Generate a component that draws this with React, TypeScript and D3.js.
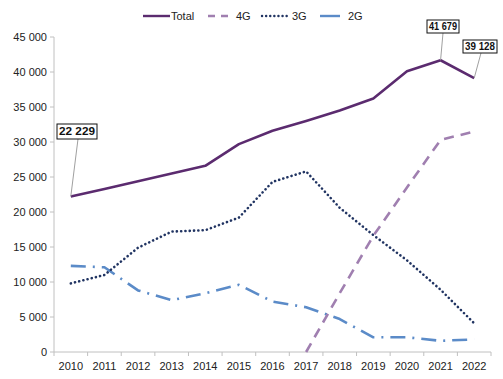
import React from "react";
import * as d3 from "d3";

const years = ["2010","2011","2012","2013","2014","2015","2016","2017","2018","2019","2020","2021","2022"];
const total = [22229, 23300, 24400, 25500, 26600, 29700, 31600, 33000, 34500, 36200, 40100, 41679, 39128];
const g4: (number | null)[] = [null, null, null, null, null, null, null, 0, 8400, 16600, 23500, 30300, 31500];
const g3 = [9800, 11000, 14900, 17200, 17400, 19200, 24300, 25800, 20600, 16700, 13100, 8900, 4100];
const g2 = [12300, 12100, 8800, 7400, 8400, 9600, 7200, 6400, 4700, 2100, 2100, 1600, 1800];
const yTicks = [0, 5000, 10000, 15000, 20000, 25000, 30000, 35000, 40000, 45000];
const callouts = [
  { idx: 0, label: "22 229", bx: 57, by: 124, bw: 40, bh: 15, lx: 78 },
  { idx: 11, label: "41 679", bx: 427, by: 20, bw: 32, bh: 13, lx: 443 },
  { idx: 12, label: "39 128", bx: 463, by: 40, bw: 34, bh: 13, lx: 481 },
];

const W = 503, H = 379;
const font = "'Liberation Sans', Arial, sans-serif";

export default function App() {
  const x = d3.scaleBand<string>().domain(years).range([54, 491]);
  const cx = (i: number) => (x(years[i]) as number) + x.bandwidth() / 2;
  const y = d3.scaleLinear().domain([0, 45000]).range([352, 37]);
  const fmt = (v: number) => d3.format(",")(v).replace(/,/g, " ");

  const line = d3.line<number | null>()
    .defined((d) => d !== null)
    .x((_, i) => cx(i))
    .y((d) => y(d as number));

  const series = [
    { name: "Total", data: total, color: "#5b2b6f", dash: "", cap: "butt" },
    { name: "4G", data: g4, color: "#a07fb0", dash: "10,7", cap: "butt" },
    { name: "3G", data: g3, color: "#213462", dash: "0.1,4.2", cap: "round" },
    { name: "2G", data: g2, color: "#5b8bc8", dash: "15,7,2,7", cap: "butt" },
  ];

  const legend = [
    { name: "Total", x1: 143, x2: 170, tx: 171, color: "#5b2b6f", dash: "", cap: "butt" },
    { name: "4G", x1: 208, x2: 232, tx: 236, color: "#a07fb0", dash: "7,6", cap: "butt" },
    { name: "3G", x1: 262, x2: 290, tx: 292, color: "#213462", dash: "0.1,4", cap: "round" },
    { name: "2G", x1: 320, x2: 340, tx: 348, color: "#5b8bc8", dash: "", cap: "butt" },
  ];

  const boundaries = d3.range(years.length + 1).map((i) => 54 + i * x.step());

  return (
    <svg width={W} height={H} style={{ position: "absolute", left: 0, top: 0, background: "#fff" }} fontFamily={font}>
      <rect width={W} height={H} fill="#fff" />
      {/* y axis */}
      <line x1={54} x2={54} y1={37} y2={352} stroke="#c0c0c0" strokeWidth={1} />
      {yTicks.map((t) => (
        <g key={t}>
          <line x1={50} x2={54} y1={y(t)} y2={y(t)} stroke="#c0c0c0" />
          <text x={47} y={y(t)} dy="0.35em" textAnchor="end" fontSize={11} fill="#222">{fmt(t)}</text>
        </g>
      ))}
      {/* x axis */}
      <line x1={54} x2={491} y1={352} y2={352} stroke="#c0c0c0" strokeWidth={1} />
      {boundaries.map((b, i) => (
        <line key={i} x1={b} x2={b} y1={352} y2={356} stroke="#c0c0c0" />
      ))}
      {years.map((yr, i) => (
        <text key={yr} x={cx(i)} y={366} dy="0.35em" textAnchor="middle" fontSize={11} fill="#222">{yr}</text>
      ))}
      {/* series */}
      {series.slice().reverse().map((s) => (
        <path key={s.name} d={line(s.data) as string} fill="none" stroke={s.color} strokeWidth={2.6}
          strokeDasharray={s.dash || undefined} strokeLinecap={s.cap as any} strokeLinejoin="round" />
      ))}
      {/* callouts */}
      {callouts.map((c) => (
        <g key={c.label}>
          <line x1={c.lx} y1={c.by + c.bh} x2={cx(c.idx)} y2={y(total[c.idx])} stroke="#a0a0a0" strokeWidth={1} />
          <rect x={c.bx} y={c.by} width={c.bw} height={c.bh} fill="#fff" stroke="#111" strokeWidth={1} />
          <text x={c.bx + 2} y={c.by + c.bh / 2} dy="0.36em" fontSize={10.5} fontWeight="bold" fill="#111"
            textLength={c.bw - 4} lengthAdjust="spacingAndGlyphs">{c.label}</text>
        </g>
      ))}
      {/* legend */}
      {legend.map((l) => (
        <g key={l.name}>
          <line x1={l.x1} x2={l.x2} y1={16} y2={16} stroke={l.color} strokeWidth={2.4}
            strokeDasharray={l.dash || undefined} strokeLinecap={l.cap as any} />
          <text x={l.tx} y={16} dy="0.35em" fontSize={11} fill="#222">{l.name}</text>
        </g>
      ))}
    </svg>
  );
}
